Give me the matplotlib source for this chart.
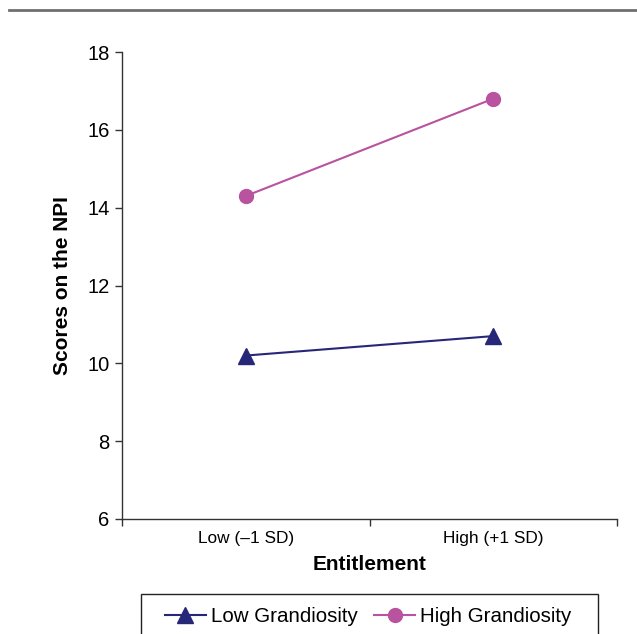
import numpy as np
import matplotlib
matplotlib.use("Agg")
from matplotlib import pyplot as plt
from matplotlib.lines import Line2D
from matplotlib.patches import Rectangle

# Data
categories = ["Low (\u20131 SD)", "High (+1 SD)"]
low_grandiosity = [10.2, 10.7]
high_grandiosity = [14.3, 16.8]
y_ticks = [6, 8, 10, 12, 14, 16, 18]

plt.rcParams['font.family'] = ['Liberation Sans', 'DejaVu Sans']

navy = "#27277a"
pink = "#b9529f"

W, H = 637, 634
fig = plt.figure(figsize=(W / 100, H / 100), dpi=100)
ax = fig.add_axes([122 / W, 1 - 519 / H, (617 - 122) / W, (519 - 52) / H])

x = np.arange(len(categories))
ax.plot(x, low_grandiosity, color=navy, linewidth=1.5, marker="^",
        markersize=11, label="Low Grandiosity")
ax.plot(x, high_grandiosity, color=pink, linewidth=1.5, marker="o",
        markersize=10, label="High Grandiosity")

ax.set_xlim(-0.5, len(categories) - 0.5)
ax.set_ylim(6, 18)
ax.set_yticks(y_ticks)
ax.set_xticks(x)
ax.set_xticklabels(categories, fontsize=12.4)
ax.set_xticks(np.arange(len(categories) + 1) - 0.5, minor=True)
ax.tick_params(axis="x", which="major", length=0, pad=9)
ax.tick_params(axis="x", which="minor", length=5, width=1, color="#333333")
ax.tick_params(axis="y", labelsize=14.5, length=5, width=1, color="#333333", pad=4)

for side in ["top", "right"]:
    ax.spines[side].set_visible(False)
for side in ["left", "bottom"]:
    ax.spines[side].set_color("#333333")
    ax.spines[side].set_linewidth(1)

ax.set_xlabel("Entitlement", fontsize=15, fontweight="bold", labelpad=6)
ax.set_ylabel("Scores on the NPI", fontsize=15, fontweight="bold", labelpad=11)

fig.legend(loc="center", bbox_to_anchor=(368 / W, 1 - 617 / H),
           ncol=2, fontsize=14.8, frameon=False,
           handlelength=2.0, handletextpad=0.25, columnspacing=0.8,
           borderpad=0.5, borderaxespad=0)

# legend box, running off the bottom edge like the reference
fig.add_artist(Rectangle((141 / W, -10 / H), (598 - 141) / W, (H - 594 + 10) / H,
                         transform=fig.transFigure, fill=False,
                         edgecolor="#222222", linewidth=1))

# grey rule across the top
fig.add_artist(Line2D([9 / W, 1], [1 - 9.5 / H, 1 - 9.5 / H],
                      color="#707070", linewidth=2))

plt.savefig("out.png", dpi=100)
